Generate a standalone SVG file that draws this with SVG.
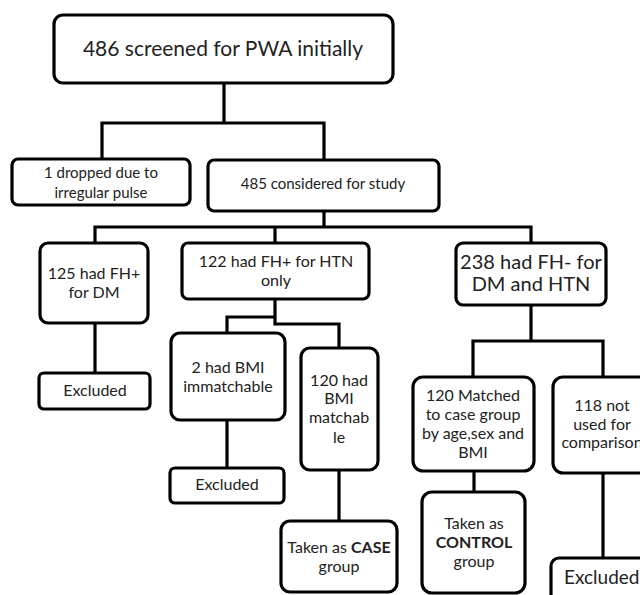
<svg xmlns="http://www.w3.org/2000/svg" width="640" height="595" viewBox="0 0 640 595">
<style>
.b{fill:#fff;stroke:#000;stroke-width:3.2}
.c{fill:none;stroke:#000;stroke-width:3.2}
text{font-family:Lato,"Open Sans","Liberation Sans",sans-serif;fill:#222;text-anchor:middle}
.s{font-size:15px}
.m{font-size:16px}
.l{font-size:20px}
</style>
<rect width="640" height="595" fill="#fff"/>
<g id="connectors">
<path class="c" d="M224,83V123M102,159V123H324V160"/>
<path class="c" d="M324,211V227M95,243V227H531V243M275,227V243"/>
<path class="c" d="M95,323V373"/>
<path class="c" d="M275,299V324H339V348M275,317H227V333"/>
<path class="c" d="M227,420V468"/>
<path class="c" d="M339,470V521"/>
<path class="c" d="M531,305V341M473,377V341H603V377"/>
<path class="c" d="M474,471V492"/>
<path class="c" d="M603,473V558"/>
</g>
<g id="n1"><rect class="b" x="54" y="15" width="339" height="68" rx="9"/><text class="l" x="223" y="56" style="font-size:21px">486 screened  for PWA initially</text></g>
<g id="n2"><rect class="b" x="12" y="159" width="178" height="46" rx="6"/><text class="s" x="101" y="178">1 dropped due to</text><text class="s" x="101" y="198">irregular pulse</text></g>
<g id="n3"><rect class="b" x="208" y="160" width="231" height="51" rx="6"/><text class="s" x="323" y="189">485 considered for study</text></g>
<g id="n4"><rect class="b" x="40" y="243" width="108" height="80" rx="8"/><text class="m" x="94" y="279">125 had FH+</text><text class="m" x="94" y="298">for DM</text></g>
<g id="n5"><rect class="b" x="39" y="373" width="111" height="36" rx="5"/><text class="m" x="95" y="396">Excluded</text></g>
<g id="n6"><rect class="b" x="182" y="243" width="187" height="56" rx="6"/><text class="m" x="276" y="267">122 had FH+ for HTN</text><text class="m" x="276" y="286">only</text></g>
<g id="n7"><rect class="b" x="171" y="333" width="114" height="87" rx="9"/><text class="m" x="228" y="373">2 had BMI</text><text class="m" x="228" y="392">immatchable</text></g>
<g id="n8"><rect class="b" x="170" y="468" width="114" height="35" rx="5"/><text class="m" x="227" y="490">Excluded</text></g>
<g id="n9"><rect class="b" x="301" y="348" width="77" height="122" rx="9"/><text class="m" x="339" y="386">120 had</text><text class="m" x="339" y="404">BMI</text><text class="m" x="339" y="423">matchab</text><text class="m" x="339" y="443">le</text></g>
<g id="n10"><rect class="b" x="281" y="521" width="116" height="71" rx="9"/><text class="m" x="339" y="553">Taken as <tspan font-weight="bold">CASE</tspan></text><text class="m" x="339" y="572">group</text></g>
<g id="n11"><rect class="b" x="456" y="243" width="150" height="62" rx="7"/><text class="l" x="531" y="269">238 had FH- for</text><text class="l" x="531" y="291">DM and HTN</text></g>
<g id="n12"><rect class="b" x="413" y="377" width="121" height="94" rx="10"/><text class="m" x="473" y="401">120 Matched</text><text class="m" x="473" y="420">to case group</text><text class="m" x="473" y="439">by age,sex and</text><text class="m" x="473" y="458">BMI</text></g>
<g id="n13"><rect class="b" x="422" y="492" width="103" height="101" rx="10"/><text class="m" x="474" y="529">Taken as</text><text class="m" x="474" y="548" font-weight="bold">CONTROL</text><text class="m" x="474" y="567">group</text></g>
<g id="n14"><rect class="b" x="553" y="377" width="110" height="96" rx="10"/><text class="m" x="602" y="411">118 not</text><text class="m" x="602" y="430">used for</text><text class="m" x="602" y="448">comparison</text></g>
<g id="n15"><rect class="b" x="551" y="558" width="110" height="60" rx="8"/><text x="564" y="584" style="text-anchor:start;font-size:19px">Excluded</text></g>
</svg>
